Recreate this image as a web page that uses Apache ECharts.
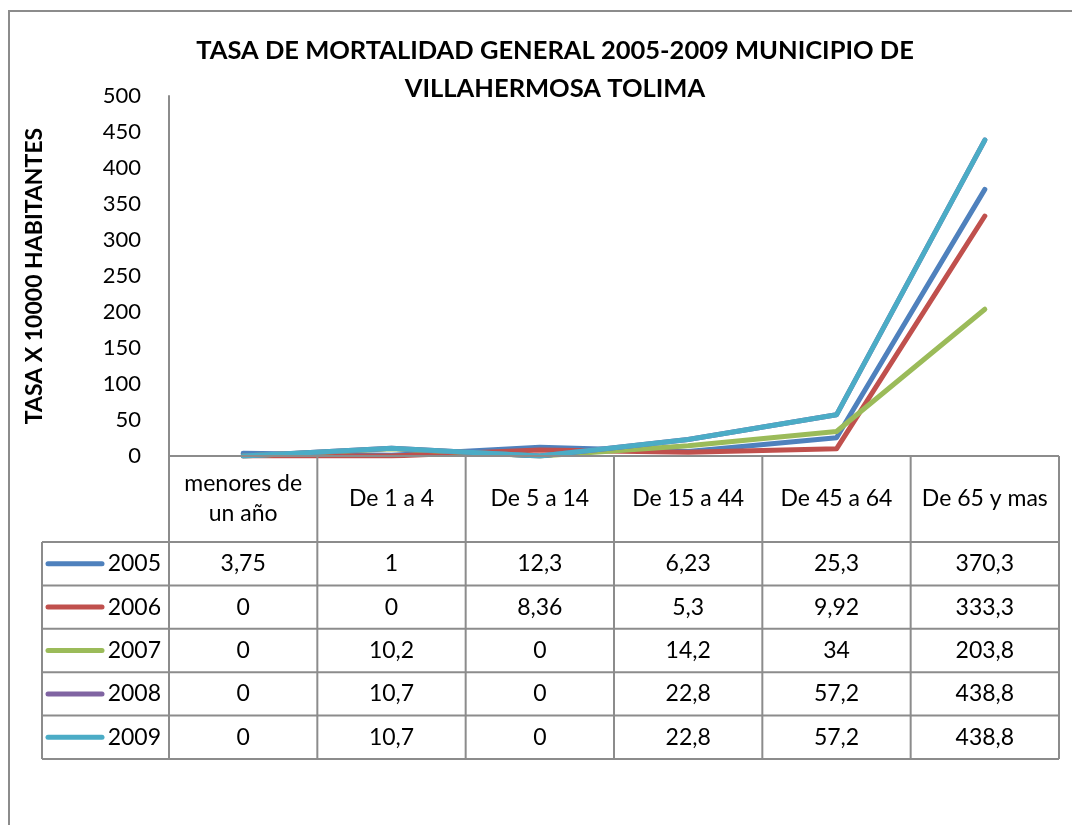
<!DOCTYPE html>
<html>
<head>
<meta charset="utf-8">
<script src="https://cdn.jsdelivr.net/npm/echarts@6/dist/echarts.min.js"></script>
<style>
    html, body { margin: 0; padding: 0; background: #fff; }
    #main { width: 1072px; height: 825px; }
</style>
</head>
<body>
<div id="main"></div>
<script>
// datos
var categories = ['menores de\nun año', 'De 1 a 4', 'De 5 a 14', 'De 15 a 44', 'De 45 a 64', 'De 65 y mas'];
var years = ['2005', '2006', '2007', '2008', '2009'];
var data2005 = [3.75, 1, 12.3, 6.23, 25.3, 370.3];
var data2006 = [0, 0, 8.36, 5.3, 9.92, 333.3];
var data2007 = [0, 10.2, 0, 14.2, 34, 203.8];
var data2008 = [0, 10.7, 0, 22.8, 57.2, 438.8];
var data2009 = [0, 10.7, 0, 22.8, 57.2, 438.8];
var yTicks = [0, 50, 100, 150, 200, 250, 300, 350, 400, 450, 500];

var seriesData = [data2005, data2006, data2007, data2008, data2009];
var colors = ['#4f81bd', '#c0504d', '#9bbb59', '#8064a2', '#4bacc6'];
var font = 'Lato, "Open Sans", sans-serif';
var gridColor = '#8c8c8c';

var chart = echarts.init(document.getElementById('main'));

var option = {
    animation: false,
    color: colors,
    title: {
        text: 'TASA DE MORTALIDAD GENERAL 2005-2009 MUNICIPIO DE\nVILLAHERMOSA TOLIMA',
        left: 550,
        textAlign: 'center',
        top: 27,
        textStyle: {
            fontFamily: font,
            fontWeight: 'bold',
            fontSize: 25.5,
            lineHeight: 38,
            color: '#000'
        }
    },
    grid: {
        left: 169,
        right: 13,
        top: 96,
        bottom: 369
    },
    xAxis: {
        type: 'category',
        data: categories,
        boundaryGap: true,
        axisLine: { show: false },
        axisTick: { show: false },
        axisLabel: { show: false }
    },
    yAxis: {
        type: 'value',
        min: yTicks[0],
        max: yTicks[yTicks.length - 1],
        interval: 50,
        name: 'TASA X 10000 HABITANTES',
        nameLocation: 'middle',
        nameRotate: 90,
        nameGap: 123,
        nameTextStyle: {
            fontFamily: font,
            fontWeight: 'bold',
            fontSize: 23,
            color: '#000'
        },
        axisLine: { show: true, lineStyle: { color: gridColor, width: 2 } },
        axisTick: { show: false },
        splitLine: { show: false },
        axisLabel: {
            fontFamily: font,
            fontSize: 22,
            color: '#000',
            margin: 28
        }
    },
    series: years.map(function (y, i) {
        return {
            name: y,
            type: 'line',
            data: seriesData[i],
            symbol: 'none',
            lineStyle: { width: 5, color: colors[i], join: 'round', cap: 'round' },
            z: 2 + i
        };
    })
};
chart.setOption(option);

// tabla de datos debajo del eje
var buildTable = function () {
    var y0 = chart.convertToPixel({ yAxisIndex: 0 }, 0);
    var c0 = chart.convertToPixel({ xAxisIndex: 0 }, 0);
    var c1 = chart.convertToPixel({ xAxisIndex: 0 }, 1);
    var half = (c1 - c0) / 2;
    var left = c0 - half;
    var right = chart.convertToPixel({ xAxisIndex: 0 }, categories.length - 1) + half;
    var headerBottom = y0 + 86;
    var rowH = 43.4;
    var legendLeft = 42;
    var tableBottom = headerBottom + rowH * years.length;
    var els = [];
    var line = function (x1, y1, x2, y2) {
        els.push({
            type: 'line',
            shape: { x1: x1, y1: y1, x2: x2, y2: y2 },
            style: { stroke: gridColor, lineWidth: 2 },
            z: 10
        });
    };
    var text = function (str, x, y, align) {
        els.push({
            type: 'text',
            x: x,
            y: y,
            style: {
                text: str,
                fill: '#000',
                font: '23px ' + font,
                align: align || 'center',
                verticalAlign: 'middle',
                lineHeight: 30
            },
            z: 11
        });
    };

    // cabecera
    line(left, y0, right, y0);
    line(legendLeft, headerBottom, right, headerBottom);
    for (var r = 1; r <= years.length; r++) {
        line(legendLeft, headerBottom + rowH * r, right, headerBottom + rowH * r);
    }
    line(legendLeft, headerBottom, legendLeft, tableBottom);
    for (var c = 0; c <= categories.length; c++) {
        var x = left + half * 2 * c;
        line(x, y0, x, tableBottom);
    }
    categories.forEach(function (cat, i) {
        text(cat, chart.convertToPixel({ xAxisIndex: 0 }, i), (y0 + headerBottom) / 2);
    });

    years.forEach(function (y, r) {
        var cy = headerBottom + rowH * (r + 0.5);
        els.push({
            type: 'line',
            shape: { x1: 48, y1: cy, x2: 102, y2: cy },
            style: { stroke: colors[r], lineWidth: 5, lineCap: 'round' },
            z: 11
        });
        text(y, 161, cy, 'right');
        seriesData[r].forEach(function (v, i) {
            text(String(v).replace('.', ','), chart.convertToPixel({ xAxisIndex: 0 }, i), cy);
        });
    });

    // marco exterior
    els.push({
        type: 'rect',
        shape: { x: 9, y: 11, width: 1080, height: 840 },
        style: { fill: null, stroke: gridColor, lineWidth: 2 },
        z: 1
    });

    chart.setOption({ graphic: { elements: els } });
};
buildTable();
</script>
</body>
</html>
